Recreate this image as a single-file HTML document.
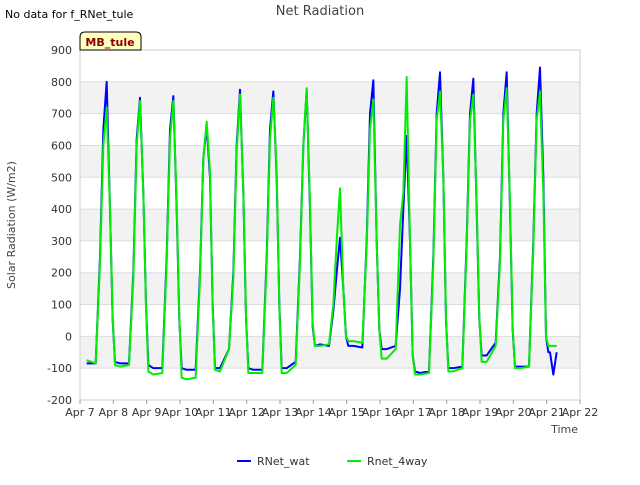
<!DOCTYPE html>
<html><head><meta charset="utf-8"><style>
body{margin:0;background:#fff;font-family:"Liberation Sans","DejaVu Sans",sans-serif}
text{font-family:"DejaVu Sans","Liberation Sans",sans-serif}
</style></head><body>
<svg id="c" width="640" height="480" xmlns="http://www.w3.org/2000/svg">
<rect width="640" height="480" fill="#fff"/>
<g id="bands"></g>
<g id="grid"></g>
<rect x="80" y="50" width="500" height="350" fill="none" stroke="#ccc"/>
<g id="axes"></g>
<g id="series"></g>
<text x="5" y="18" font-size="11" fill="#000">No data for f_RNet_tule</text>
<text x="320" y="15" font-size="13" fill="#444" text-anchor="middle">Net Radiation</text>
<g>
<path d="M80,50 L80,37 Q80,32 85,32 L136,32 Q141,32 141,37 L141,50 Z" fill="#ffffc0" stroke="#000"/>
<text x="110" y="46" font-size="11" font-weight="bold" fill="#8b0000" text-anchor="middle">MB_tule</text>
</g>
<text x="15" y="225" font-size="11" fill="#444" text-anchor="middle" transform="rotate(-90 15 225)">Solar Radiation (W/m2)</text>
<text x="578" y="433" font-size="11" fill="#444" text-anchor="end">Time</text>
<g><line x1="237" y1="461" x2="251" y2="461" stroke="#0000ff" stroke-width="2"/><text x="257" y="465" font-size="11" fill="#333">RNet_wat</text></g>
<g><line x1="347" y1="461" x2="361" y2="461" stroke="#00ee00" stroke-width="2"/><text x="367" y="465" font-size="11" fill="#333">Rnet_4way</text></g>
</svg>
<script>
const yTicks=[-200,-100,0,100,200,300,400,500,600,700,800,900];
const xTickLabels=["Apr 7","Apr 8","Apr 9","Apr 10","Apr 11","Apr 12","Apr 13","Apr 14","Apr 15","Apr 16","Apr 17","Apr 18","Apr 19","Apr 20","Apr 21","Apr 22"];
const offsets=[0.2,0.47,0.6,0.7,0.8,0.9,0.98,1.05];
const watValues=[
[-85,-85,250,650,800,400,50,-80],
[-85,-85,200,620,750,450,100,-90],
[-100,-100,250,650,755,400,50,-100],
[-105,-105,200,560,660,500,100,-100],
[-100,-40,200,600,775,450,60,-100],
[-105,-105,250,650,770,500,100,-100],
[-100,-80,250,600,775,400,30,-30],
[-25,-30,80,200,310,150,0,-30],
[-30,-35,300,700,805,300,20,-40],
[-40,-30,150,400,630,300,-60,-110],
[-115,-110,250,700,830,500,50,-100],
[-100,-95,300,700,810,400,50,-60],
[-60,-20,250,700,830,400,20,-95],
[-95,-95,300,700,845,500,0,-50]
];
const rnetValues=[
[-75,-85,230,600,720,400,60,-90],
[-95,-90,180,600,740,450,90,-110],
[-120,-115,230,620,740,420,60,-130],
[-135,-130,180,560,675,520,90,-105],
[-110,-40,180,580,760,460,70,-115],
[-115,-115,230,620,750,520,90,-115],
[-115,-90,230,600,780,420,40,-30],
[-30,-25,100,300,465,150,0,-15],
[-15,-20,280,650,745,300,20,-70],
[-70,-40,350,450,815,300,-60,-120],
[-120,-115,230,680,770,500,60,-110],
[-110,-100,280,680,760,420,60,-80],
[-80,-30,230,680,780,420,30,-100],
[-100,-95,280,680,770,450,0,-30]
];
const endValsWat=[-50,-120,-50];
const endValsRnet=[-30,-30,-30];
const endTimes=[14.1,14.2,14.3];
const NS="http://www.w3.org/2000/svg";
const X0=80,X1=580,Y0=400,Y1=50;
const xs=d=>X0+(X1-X0)*d/15;
const ys=v=>Y0-(Y0-Y1)*(v+200)/1100;
function mk(t,a,p){const e=document.createElementNS(NS,t);for(const k in a)e.setAttribute(k,a[k]);document.getElementById(p).appendChild(e);return e;}
[[-100,0],[100,200],[300,400],[500,600],[700,800]].forEach(b=>{
const r=mk('rect',{x:X0,y:ys(b[1]),width:X1-X0,height:ys(b[0])-ys(b[1]),fill:'#f2f2f2'},'bands');


});
yTicks.forEach(v=>{
const l=mk('line',{x1:X0,x2:X1,y1:ys(v),y2:ys(v),stroke:'#ddd'},'grid');


const t=mk('text',{x:X0-8,y:ys(v)+4,'font-size':11,fill:'#333','text-anchor':'end'},'axes');
t.textContent=v;


});
xTickLabels.forEach((s,i)=>{
const l=mk('line',{x1:xs(i),x2:xs(i),y1:Y0,y2:Y0+4,stroke:'#999'},'axes');


const t=mk('text',{x:xs(i),y:Y0+16,'font-size':11,fill:'#333','text-anchor':'middle'},'axes');
t.textContent=s;


});
function draw(vals,ends,col,name){
const pts=[];
vals.forEach((day,d)=>day.forEach((v,k)=>pts.push([xs(d+offsets[k]),ys(v)])));
ends.forEach((v,k)=>pts.push([xs(endTimes[k]),ys(v)]));
const p=mk('polyline',{points:pts.map(q=>q.join(',')).join(' '),fill:'none',stroke:col,'stroke-width':2,'stroke-linejoin':'round'},'series');


}
draw(watValues,endValsWat,'#0000ff','series-rnet-wat');
draw(rnetValues,endValsRnet,'#00ee00','series-rnet-4way');
</script>
</body></html>
